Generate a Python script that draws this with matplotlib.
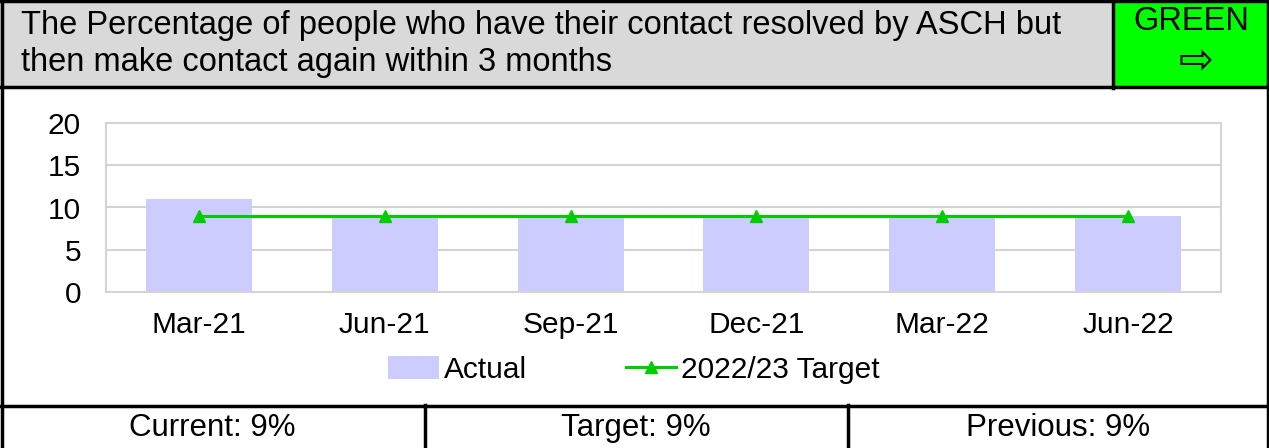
import matplotlib
matplotlib.use("Agg")
import matplotlib.pyplot as plt
from matplotlib.patches import Rectangle
from matplotlib.lines import Line2D

plt.rcParams['font.family'] = ['Liberation Sans', 'DejaVu Sans']

quarters = ['Mar-21', 'Jun-21', 'Sep-21', 'Dec-21', 'Mar-22', 'Jun-22']
actual = [11, 9, 9, 9, 9, 9]
target = [9, 9, 9, 9, 9, 9]

title = ('The Percentage of people who have their contact resolved by ASCH but\n'
         'then make contact again within 3 months')
status = 'GREEN'
footer = ['Current: 9%', 'Target: 9%', 'Previous: 9%']

W, H = 1269, 448
fig = plt.figure(figsize=(W / 100, H / 100), dpi=100)


def px(x, y):
    # pixel coords (top-left origin) -> figure fraction
    return x / W, 1 - y / H


def box(x0, y0, x1, y1, color):
    fx, fy = px(x0, y1)
    fig.add_artist(Rectangle((fx, fy), (x1 - x0) / W, (y1 - y0) / H,
                             transform=fig.transFigure, facecolor=color,
                             edgecolor='none', zorder=0))


def hline(y, x0=0, x1=W, lw=2.5):
    fig.add_artist(Line2D([x0 / W, x1 / W], [1 - y / H] * 2, color='black',
                          lw=lw, transform=fig.transFigure, zorder=5))


def vline(x, y0, y1, lw=2.5):
    fig.add_artist(Line2D([x / W] * 2, [1 - y0 / H, 1 - y1 / H], color='black',
                          lw=lw, transform=fig.transFigure, zorder=5))


# header band
box(0, 0, W, 88, '#d9d9d9')
box(1113, 0, W, 88, '#00ff00')
hline(1.5)
hline(87.5)
hline(405.5)
vline(1.5, 0, H)
vline(1267.5, 0, H)
vline(1113, 0, 88)
vline(424.5, 405, H)
vline(847.5, 405, H)

fig.text(*px(21, 44), title, fontsize=23.5, va='center', ha='left',
         linespacing=1.25)
fig.text(*px(1191, 22), status, fontsize=23.5, va='center', ha='center')
fig.text(*px(1196, 61), '\u21e8', fontsize=30, va='center', ha='center',
         family=['DejaVu Sans'])

centers = [212, 636, 1058]
for cx, s in zip(centers, footer):
    fig.text(*px(cx, 428), s, fontsize=22.5, va='center', ha='center')

# chart
ax = fig.add_axes([106 / W, 1 - 292 / H, (1221 - 106) / W, (292 - 123) / H])
x = range(len(quarters))
bars = ax.bar(x, actual, width=0.57, color='#ccccff', label='Actual', zorder=2)
line, = ax.plot(x, target, color='#00cc00', lw=2.2, marker='^', markersize=8,
                label='2022/23 Target', zorder=3)

ax.set_xlim(-0.5, len(quarters) - 0.5)
ax.set_ylim(0, 20)
ax.set_yticks([0, 5, 10, 15, 20])
ax.set_xticks(list(x))
ax.set_xticklabels(quarters)
ax.tick_params(axis='both', length=0, labelsize=21.5)
ax.tick_params(axis='y', pad=18)
ax.tick_params(axis='x', pad=14)
ax.grid(axis='y', color='#d4d4d4', lw=1.5, zorder=0)
ax.set_axisbelow(True)
for sp in ax.spines.values():
    sp.set_color('#d4d4d4')
    sp.set_linewidth(1.5)

ax.legend([bars, line], ['Actual', '2022/23 Target'], loc='center',
          bbox_to_anchor=(634 / W, 1 - 370 / H),
          bbox_transform=fig.transFigure, ncol=2, frameon=False,
          fontsize=21.5, handlelength=1.7, handleheight=0.8,
          handletextpad=0.17, columnspacing=3.3)

fig.savefig('out.png', dpi=100)
